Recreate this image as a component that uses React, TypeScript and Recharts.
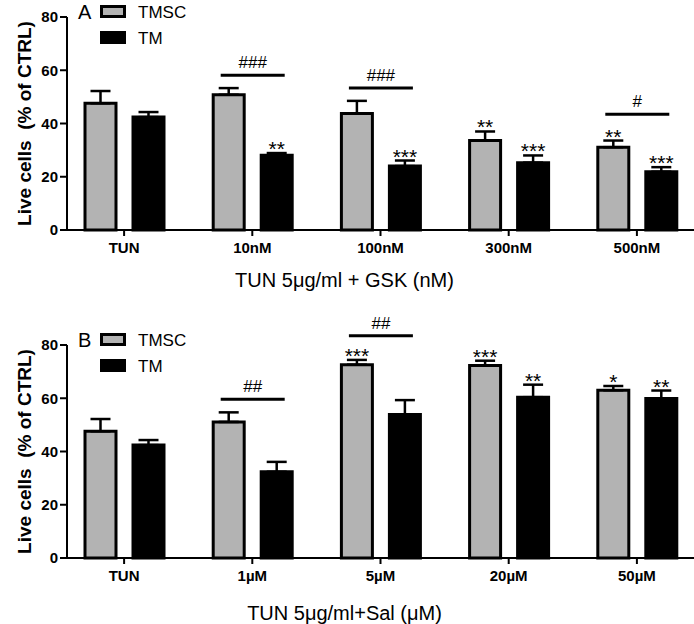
// Two stacked GraphPad-style grouped bar charts (TMSC vs TM live cells).
import {
  BarChart, Bar, ErrorBar, LabelList, Legend, Label,
  XAxis, YAxis,
} from "recharts";

const FONT = 'Arial, "Liberation Sans", Helvetica, sans-serif';
const GRAY = "#b3b3b3";
const BAR_GAP = 17;

// Panel A — TUN + GSK
const categoriesA = ["TUN", "10nM", "100nM", "300nM", "500nM"];
const tmscA = [47.6, 50.8, 43.8, 33.6, 31.1];
const tmscErrA = [4.6, 2.5, 4.7, 3.4, 2.5];
const tmA = [42.4, 28.1, 24.0, 25.3, 21.9];
const tmErrA = [1.9, 0.8, 2.1, 2.7, 1.7];
const tmscSigA = ["", "", "", "**", "**"];
const tmSigA = ["", "**", "***", "***", "***"];
const hashCatsA = ["10nM", "100nM", "500nM"];
const hashLevelsA = [58.1, 53.3, 43.5];
const hashTextsA = ["###", "###", "#"];

// Panel B — TUN + Sal
const categoriesB = ["TUN", "1µM", "5µM", "20µM", "50µM"];
const tmscB = [47.6, 51.1, 72.6, 72.3, 63.0];
const tmscErrB = [4.6, 3.6, 1.8, 1.8, 1.6];
const tmB = [42.4, 32.4, 53.9, 60.4, 59.9];
const tmErrB = [1.9, 3.7, 5.4, 4.7, 3.0];
const tmscSigB = ["", "", "***", "***", "*"];
const tmSigB = ["", "", "", "**", "**"];
const hashCatsB = ["1µM", "5µM"];
const hashLevelsB = [59.6, 83.5];
const hashTextsB = ["##", "##"];

const yTicks = [0, 20, 40, 60, 80];

interface PanelProps {
  top: number;
  marginTop: number;
  axisHeight: number;
  titleOffset: number;
  letter: string;
  title: string;
  categories: string[];
  tmsc: number[];
  tmscErr: number[];
  tm: number[];
  tmErr: number[];
  tmscSig: string[];
  tmSig: string[];
  hashCats: string[];
  hashLevels: number[];
  hashTexts: string[];
}

// stars sit just above the error-bar cap; pixel/unit ratio taken from the bar itself
function starContent(sig: string[], vals: number[], errs: number[]) {
  return (props: any) => {
    const vb = props.viewBox || props;
    const idx = props.index;
    const text = sig[idx];
    if (!text) return null;
    const k = vb.height / vals[idx];
    const capY = vb.y - errs[idx] * k;
    return (
      <text x={vb.x + vb.width / 2} y={capY + 3} textAnchor="middle"
        fontSize={21} fontFamily={FONT} fill="#000">
        {text}
      </text>
    );
  };
}

// comparison bar (#) over a group, drawn from the TMSC bar of that group
function hashContent(p: PanelProps) {
  return (props: any) => {
    const vb = props.viewBox || props;
    const idx = props.index;
    const j = p.hashCats.indexOf(p.categories[idx]);
    if (j < 0) return null;
    const k = vb.height / p.tmsc[idx];
    const ly = vb.y + vb.height - p.hashLevels[j] * k;
    const cx = vb.x + vb.width + BAR_GAP / 2;
    return (
      <g>
        <line x1={cx - 32} x2={cx + 32} y1={ly} y2={ly} stroke="#000" strokeWidth={3} />
        <text x={cx} y={ly - 7} textAnchor="middle" fontSize={17} fontFamily={FONT} fill="#000">
          {p.hashTexts[j]}
        </text>
      </g>
    );
  };
}

// legend svg is shifted down 4px inside its wrapper so glyph boxes stay inside
function PanelLegend({ letter }: { letter: string }) {
  return (
    <svg width={200} height={52} style={{ display: "block", overflow: "visible" }}>
      <text x={78} y={22.5} fontSize={20} fontFamily={FONT} fill="#000">{letter}</text>
      <rect x={101.5} y={10.5} width={23} height={10} fill={GRAY} stroke="#000" strokeWidth={3} />
      <text x={138} y={22} fontSize={17} fontFamily={FONT} fill="#000">TMSC</text>
      <rect x={100} y={35} width={26} height={13} fill="#000" />
      <text x={138} y={47.5} fontSize={17} fontFamily={FONT} fill="#000">TM</text>
    </svg>
  );
}

function Panel(p: PanelProps) {
  const rows = p.categories.map((cat, i) => ({
    cat,
    tmsc: p.tmsc[i],
    tm: p.tm[i],
    tmscErr: [0, p.tmscErr[i]],
    tmErr: [0, p.tmErr[i]],
  }));
  return (
    <div style={{ position: "absolute", left: 0, top: p.top, width: 694, height: 312 }}>
      <BarChart width={694} height={312} data={rows}
        margin={{ top: p.marginTop, right: 0, left: 0, bottom: 0 }}
        barSize={31} barGap={BAR_GAP}>
        <XAxis dataKey="cat" height={p.axisHeight} padding={{ left: -7, right: -7 }} interval={0}
          axisLine={{ stroke: "#000", strokeWidth: 2 }}
          tickLine={{ stroke: "#000", strokeWidth: 2 }} tickSize={6} tickMargin={6}
          tick={{ fontSize: 15, fontWeight: "bold", fill: "#000", fontFamily: FONT }}>
          <Label value={p.title} position="insideBottom" offset={p.titleOffset} dx={-36}
            style={{ fontSize: 20, fill: "#000", fontFamily: FONT }} />
        </XAxis>
        <YAxis width={67} domain={[0, 80]} ticks={yTicks} interval={0}
          axisLine={{ stroke: "#000", strokeWidth: 2 }}
          tickLine={{ stroke: "#000", strokeWidth: 2 }} tickSize={7} tickMargin={2}
          tick={{ fontSize: 15, fontWeight: "bold", fill: "#000", fontFamily: FONT }}
          label={{
            content: (lp: any) => {
              const vb = lp.viewBox;
              const cx = 31;
              const cy = vb.y + vb.height / 2;
              return (
                <text x={cx} y={cy} transform={`rotate(-90, ${cx}, ${cy})`} textAnchor="middle"
                  fontSize={19} fontWeight="bold" fontFamily={FONT} fill="#000"
                  style={{ whiteSpace: "pre" }}>
                  {"Live cells  (% of CTRL)"}
                </text>
              );
            },
          }}
        />
        <Legend layout="vertical" align="center" verticalAlign="middle"
          wrapperStyle={{ position: "absolute", left: 0, top: p.marginTop - 21, width: 200, height: 52 }}
          content={() => <PanelLegend letter={p.letter} />} />
        <Bar dataKey="tmsc" name="TMSC" fill={GRAY} stroke="#000" strokeWidth={3}
          isAnimationActive={false}>
          <ErrorBar dataKey="tmscErr" direction="y" width={10} stroke="#000" strokeWidth={2.5} />
          <LabelList dataKey="tmsc" content={starContent(p.tmscSig, p.tmsc, p.tmscErr)} />
          <LabelList dataKey="tmsc" content={hashContent(p)} />
        </Bar>
        <Bar dataKey="tm" name="TM" fill="#000" stroke="#000" strokeWidth={3}
          isAnimationActive={false}>
          <ErrorBar dataKey="tmErr" direction="y" width={10} stroke="#000" strokeWidth={2.5} />
          <LabelList dataKey="tm" content={starContent(p.tmSig, p.tm, p.tmErr)} />
        </Bar>
      </BarChart>
    </div>
  );
}

export default function App() {
  return (
    <div style={{ position: "absolute", left: 0, top: 0, width: 694, height: 624, background: "#fff", fontFamily: FONT }}>
      <Panel top={0} marginTop={17} axisHeight={82} titleOffset={25} letter="A"
        title="TUN 5μg/ml + GSK (nM)" categories={categoriesA}
        tmsc={tmscA} tmscErr={tmscErrA} tm={tmA} tmErr={tmErrA}
        tmscSig={tmscSigA} tmSig={tmSigA}
        hashCats={hashCatsA} hashLevels={hashLevelsA} hashTexts={hashTextsA} />
      <Panel top={312} marginTop={33} axisHeight={66} titleOffset={4} letter="B"
        title="TUN 5μg/ml+Sal (μM)" categories={categoriesB}
        tmsc={tmscB} tmscErr={tmscErrB} tm={tmB} tmErr={tmErrB}
        tmscSig={tmscSigB} tmSig={tmSigB}
        hashCats={hashCatsB} hashLevels={hashLevelsB} hashTexts={hashTextsB} />
    </div>
  );
}
